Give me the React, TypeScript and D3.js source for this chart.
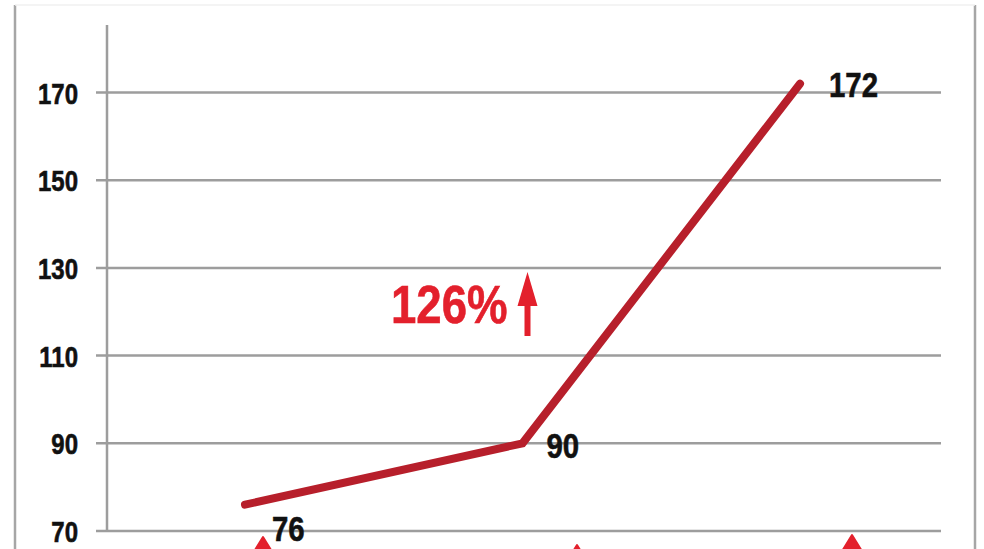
import React from "react";
import * as d3 from "d3";

const categories = ["P1", "P2", "P3"];
const values = [76, 90, 172];
const yTicks = [70, 90, 110, 130, 150, 170];
const changeLabel = "126%";

const W = 984;
const H = 549;
const FONT = "'Liberation Sans', Arial, sans-serif";

function CText(props: {
  x: number;
  y: number;
  size: number;
  sx: number;
  fill: string;
  anchor?: string;
  children: React.ReactNode;
}) {
  return (
    <text
      transform={`translate(${props.x},${props.y}) scale(${props.sx},1)`}
      textAnchor={props.anchor || "start"}
      fontFamily={FONT}
      fontWeight="bold"
      fontSize={props.size}
      fill={props.fill}
      stroke={props.fill}
      strokeWidth={0.6}
    >
      {props.children}
    </text>
  );
}

export default function App() {
  const x = d3.scalePoint<string>().domain(categories).range([245, 800]);
  const y = d3.scaleLinear().domain([70, 170]).range([531, 92.5]);
  const line = d3
    .line<number>()
    .x((_, i) => x(categories[i]) as number)
    .y((d) => y(d));

  const labelOffsets = [
    { dx: 27, dy: 36 },
    { dx: 24, dy: 15 },
    { dx: 29, dy: 13 },
  ];
  // decorative red markers peeking from below (belong to next panel)
  const markers = [
    { cx: 263, top: 537 },
    { cx: 577, top: 545 },
    { cx: 852, top: 535 },
  ];

  const midX = x(categories[1]) as number;
  const ax = midX + 5;

  return (
    <svg
      width={W}
      height={H}
      style={{ position: "absolute", left: 0, top: 0, background: "#fff" }}
    >
      {/* outer frame */}
      <line x1={15} x2={15} y1={5} y2={H} stroke="#a6a6a6" strokeWidth={2.5} />
      <line x1={975} x2={975} y1={5} y2={H} stroke="#a6a6a6" strokeWidth={2.5} />
      <line x1={15} x2={975} y1={5} y2={5} stroke="#f0f0f0" strokeWidth={1.5} />

      {/* gridlines */}
      {yTicks.map((t) => (
        <g key={t}>
          <line
            x1={96}
            x2={941}
            y1={y(t)}
            y2={y(t)}
            stroke="#9d9d9d"
            strokeWidth={2.5}
          />
          <CText x={78} y={y(t) + 11} size={30} sx={0.8} fill="#111" anchor="end">
            {t}
          </CText>
        </g>
      ))}
      {/* axis line */}
      <line x1={107} x2={107} y1={25} y2={y(70)} stroke="#9d9d9d" strokeWidth={2.5} />

      {/* data line */}
      <path
        d={line(values) || ""}
        fill="none"
        stroke="#b71f2b"
        strokeWidth={8}
        strokeLinecap="round"
        strokeLinejoin="miter"
      />

      {/* value labels */}
      {values.map((v, i) => (
        <CText
          key={i}
          x={(x(categories[i]) as number) + labelOffsets[i].dx}
          y={y(v) + labelOffsets[i].dy}
          size={35}
          sx={0.84}
          fill="#111"
        >
          {v}
        </CText>
      ))}

      {/* change annotation */}
      <CText x={391} y={323} size={53} sx={0.86} fill="#e3202c">
        {changeLabel}
      </CText>
      <g fill="#e3202c">
        <rect x={ax - 3} y={295} width={6} height={41} />
        <path d={`M ${ax} 272 L ${ax + 10} 306 L ${ax - 10} 306 Z`} />
      </g>

      {/* red markers at bottom */}
      {markers.map((m, i) => (
        <path
          key={i}
          d={`M ${m.cx} ${m.top} L ${m.cx + 16} ${m.top + 26} L ${m.cx - 16} ${m.top + 26} Z`}
          fill="#e3202c"
          stroke="#e3202c"
          strokeWidth={2}
          strokeLinejoin="round"
        />
      ))}
    </svg>
  );
}
